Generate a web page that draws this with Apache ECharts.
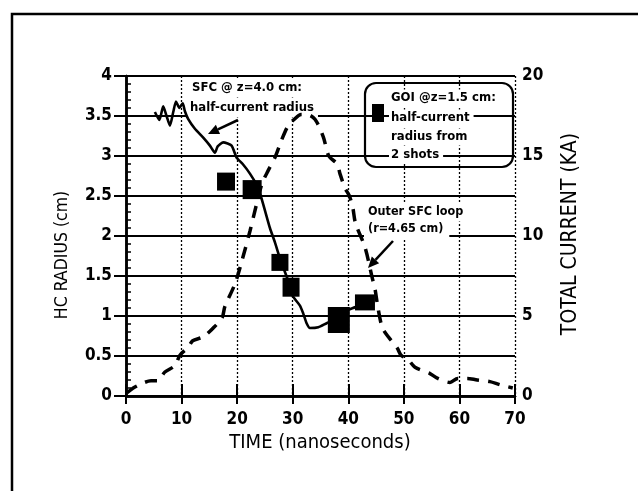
<!DOCTYPE html>
<html><head><meta charset="utf-8">
<script src="https://cdn.jsdelivr.net/npm/echarts@6/dist/echarts.min.js"></script>
<style>html,body{margin:0;padding:0;background:#fff}#c{width:638px;height:491px}</style>
</head><body><div id="c"></div>
<script>
// ---- data ----
const timeTicks = [0, 10, 20, 30, 40, 50, 60, 70];
const radiusTicks = [0, 0.5, 1, 1.5, 2, 2.5, 3, 3.5, 4];
const currentTicks = [0, 5, 10, 15, 20];

// SFC @ z=4.0 cm: half-current radius (cm)
const sfcTime   = [5.2, 6.0, 6.7, 7.3, 7.9, 8.5, 9.0, 9.6, 10.2, 10.6, 11.2, 12.4, 13.9, 15.1, 16.0, 16.5, 17.5, 19.0, 19.9, 21.0, 22.3, 23.8, 25.9, 26.8, 27.7, 28.6, 29.3, 30.0, 31.3, 31.9, 32.5, 33.1, 34.6, 36.1, 38.0, 39.8, 41.2, 43.0];
const sfcRadius = [3.55, 3.45, 3.62, 3.50, 3.38, 3.55, 3.68, 3.60, 3.66, 3.56, 3.46, 3.34, 3.23, 3.13, 3.04, 3.12, 3.17, 3.13, 2.98, 2.90, 2.78, 2.60, 2.10, 1.92, 1.72, 1.55, 1.42, 1.25, 1.13, 1.03, 0.91, 0.85, 0.86, 0.91, 0.97, 1.07, 1.11, 1.17];

// GOI @z=1.5 cm: half-current radius from 2 shots (cm)
const goiTime   = [18.0, 22.7, 27.7, 29.7, 38.3, 43.0];
const goiRadius = [2.68, 2.58, 1.67, 1.36, 0.95, 1.17];

// Outer SFC loop (r=4.65 cm): total current (kA)
const loopTime    = [0.2, 1.3, 3.0, 4.5, 5.6, 7.0, 8.8, 9.7, 11.2, 12.0, 13.9, 15.7, 17.3, 17.8, 19.6, 20.9, 22.3, 23.5, 24.5, 25.6, 26.8, 28.0, 29.2, 30.3, 31.5, 32.5, 34.0, 35.5, 36.5, 38.0, 38.5, 39.4, 40.2, 40.8, 41.3, 43.0, 44.3, 44.8, 45.3, 46.1, 47.2, 48.8, 49.5, 50.7, 52.0, 54.7, 56.1, 58.3, 59.7, 61.4, 63.2, 65.5, 67.3, 69.6];
const loopCurrent = [0.2, 0.5, 0.8, 0.95, 0.95, 1.5, 1.9, 2.55, 3.05, 3.45, 3.7, 4.25, 4.9, 5.6, 7.0, 8.5, 10.3, 12.0, 13.3, 14.1, 14.9, 16.0, 16.9, 17.3, 17.6, 17.6, 17.3, 16.2, 15.0, 14.5, 13.9, 13.0, 12.5, 11.8, 10.8, 9.3, 7.4, 6.7, 5.6, 4.3, 3.7, 3.0, 2.55, 2.3, 1.8, 1.4, 1.1, 0.85, 1.1, 1.1, 1.0, 0.9, 0.7, 0.5];

// marker sizes (style)
const goiSizes = [[18, 18], [19, 19], [17, 17], [17, 19], [22, 26], [20, 16]];

const FONT = '"DejaVu Sans Condensed", "Liberation Sans Narrow", "Liberation Sans", sans-serif';
const black = '#000';

const chart = echarts.init(document.getElementById('c'), null, {renderer: 'canvas'});

function arrow(x1, y1, x2, y2) {
  const ang = Math.atan2(y2 - y1, x2 - x1);
  const L = 11, W = 5;
  const bx = x2 - L * Math.cos(ang), by = y2 - L * Math.sin(ang);
  const px = -Math.sin(ang), py = Math.cos(ang);
  return [
    {type: 'line', z: 5, shape: {x1: x1, y1: y1, x2: bx, y2: by}, style: {stroke: black, lineWidth: 2.5}},
    {type: 'polygon', z: 5, shape: {points: [[x2, y2], [bx + W * px, by + W * py], [bx - W * px, by - W * py]]}, style: {fill: black}}
  ];
}

function txt(x, y, text, size, extra) {
  return {
    type: 'text', x: x, y: y, z: 1,
    style: Object.assign({text: text, font: 'bold ' + size + 'px ' + FONT, fill: black,
      backgroundColor: '#fff', align: 'left', verticalAlign: 'middle'}, extra || {})
  };
}

const graphics = [
  {type: 'polyline', z: 5, shape: {points: [[12, 491], [12, 14], [638, 14]]}, style: {stroke: black, lineWidth: 2.5, fill: null}},
  // axis titles
  {type: 'text', x: 62, y: 255, rotation: Math.PI / 2, z: 5,
    style: {text: 'HC RADIUS (cm)', font: '17.5px ' + FONT, fill: black, align: 'center', verticalAlign: 'middle'}},
  {type: 'text', x: 571, y: 234, rotation: Math.PI / 2, z: 5,
    style: {text: 'TOTAL CURRENT (KA)', font: '21px ' + FONT, fill: black, align: 'center', verticalAlign: 'middle'}},
  {type: 'text', x: 320, y: 443, z: 5,
    style: {text: 'TIME (nanoseconds)', font: '20px ' + FONT, fill: black, align: 'center', verticalAlign: 'middle'}},
  // SFC annotation
  txt(186, 88, 'SFC @ z=4.0 cm:', 13, {padding: [4, 6, 2, 6]}),
  txt(186, 108, 'half-current radius', 13, {padding: [2, 4, 4, 4]}),
  // Outer loop annotation
  txt(364, 212, 'Outer SFC loop', 12.5, {padding: [4, 6, 2, 4]}),
  txt(364, 229, '(r=4.65 cm)', 12.5, {padding: [2, 6, 5, 4]}),
  // legend box
  {type: 'rect', z: 5, shape: {x: 365, y: 83, width: 148, height: 84, r: 11}, style: {stroke: black, lineWidth: 2.2, fill: null}},
  {type: 'rect', z: 5, shape: {x: 372, y: 104, width: 12, height: 18}, style: {fill: black}},
  txt(389, 98, 'GOI @z=1.5 cm:', 13, {padding: [2, 4, 2, 2]}),
  txt(389, 118, 'half-current', 13, {padding: [2, 4, 2, 2]}),
  txt(389, 137, 'radius from', 13, {padding: [2, 4, 2, 2]}),
  txt(389, 155, '2 shots', 13, {padding: [2, 4, 2, 2]})
].concat(arrow(238, 120, 208, 134)).concat(arrow(393, 241, 368, 268));

const tickFont = {color: black, fontFamily: FONT, fontWeight: 'bold', fontSize: 17};

const option = {
  animation: false,
  backgroundColor: '#fff',
  grid: {left: 126, right: 123, top: 76, bottom: 95, containLabel: false},
  xAxis: [
    {type: 'value', position: 'bottom', min: 0, max: 70, interval: 10,
      axisLine: {show: true, lineStyle: {color: black, width: 2.5}},
      axisTick: {show: true, length: 8, lineStyle: {color: black, width: 2}},
      axisLabel: Object.assign({margin: 15, formatter: v => timeTicks.includes(v) ? String(v) : ''}, tickFont),
      splitLine: {show: true, lineStyle: {color: black, width: 1.3, type: [2, 2]}}},
    {type: 'value', position: 'bottom', min: 0, max: 70, interval: 10,
      axisLine: {show: false}, axisTick: {show: true, inside: true, length: 7, lineStyle: {color: black, width: 2}},
      axisLabel: {show: false}, splitLine: {show: false}},
    {type: 'value', position: 'top', min: 0, max: 70, interval: 10,
      axisLine: {show: true, lineStyle: {color: black, width: 2.5}},
      axisTick: {show: true, length: 12, lineStyle: {color: black, width: 2}},
      axisLabel: {show: false}, splitLine: {show: false}}
  ],
  yAxis: [
    {type: 'value', position: 'left', min: 0, max: 4, interval: 0.5,
      axisLine: {show: true, lineStyle: {color: black, width: 2.5}},
      axisTick: {show: true, length: 12, lineStyle: {color: black, width: 2}},
      axisLabel: Object.assign({margin: 14, formatter: v => radiusTicks.includes(v) ? String(v) : ''}, tickFont),
      splitLine: {show: true, lineStyle: {color: black, width: 2}}},
    {type: 'value', position: 'right', min: 0, max: 20, interval: 5,
      axisLine: {show: true, lineStyle: {color: black, width: 2.5}},
      axisTick: {show: true, length: 7, lineStyle: {color: black, width: 2}},
      axisLabel: Object.assign({margin: 7, formatter: v => currentTicks.includes(v) ? String(v) : ''}, tickFont),
      splitLine: {show: false}},
    {type: 'value', position: 'left', min: 0, max: 4, interval: 0.1,
      axisLine: {show: false},
      axisTick: {show: true, inside: true, length: 5, lineStyle: {color: black, width: 1.5}},
      axisLabel: {show: false}, splitLine: {show: false}}
  ],
  graphic: graphics,
  series: [
    {name: 'Outer SFC loop (r=4.65 cm)', type: 'line', xAxisIndex: 0, yAxisIndex: 1,
      data: loopTime.map((t, i) => [t, loopCurrent[i]]),
      showSymbol: false, symbol: 'none', smooth: 0.3, z: 3,
      lineStyle: {color: black, width: 3.5, type: [12, 9], cap: 'butt'}},
    {name: 'SFC @ z=4.0 cm: half-current radius', type: 'line', xAxisIndex: 0, yAxisIndex: 0,
      data: sfcTime.map((t, i) => [t, sfcRadius[i]]),
      showSymbol: false, symbol: 'none', smooth: 0.2, z: 3,
      lineStyle: {color: black, width: 2.6}},
    {name: 'GOI @z=1.5 cm', type: 'scatter', xAxisIndex: 0, yAxisIndex: 0,
      data: goiTime.map((t, i) => [t, goiRadius[i]]),
      symbol: 'rect', symbolSize: (v, p) => goiSizes[p.dataIndex], z: 4,
      itemStyle: {color: black, opacity: 1}}
  ]
};
chart.setOption(option);
</script></body></html>
